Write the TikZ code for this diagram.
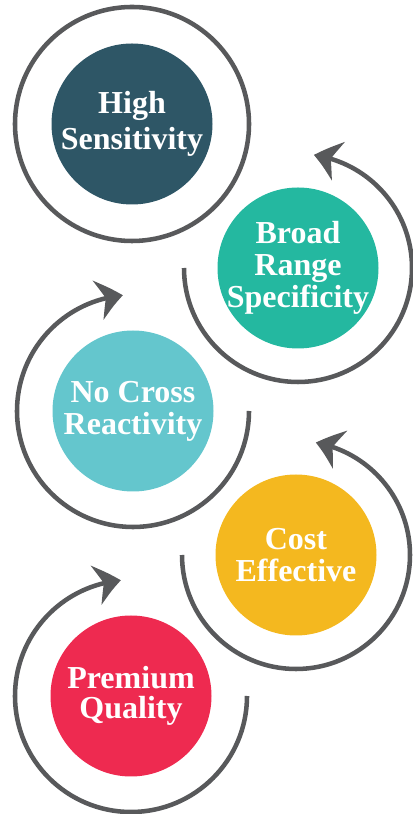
\documentclass[tikz,border=0pt]{standalone}
\usepackage{fontspec}
\setmainfont{Liberation Serif}
\usetikzlibrary{arrows.meta,bending}
\definecolor{cdark}{HTML}{2E5666}
\definecolor{cteal}{HTML}{24B8A0}
\definecolor{ccyan}{HTML}{64C6CD}
\definecolor{cyell}{HTML}{F4B81F}
\definecolor{cred}{HTML}{EE2A50}
\definecolor{cgray}{HTML}{58595B}
\begin{document}
\begin{tikzpicture}[x=0.75pt,y=0.75pt,
  disc/.style={circle,minimum size=120.75pt,inner sep=0pt,draw=none},
  lbl/.style={text=white,align=center,font=\bfseries\fontsize{24}{24}\selectfont,inner sep=0pt},
  loop/.style={draw=cgray,line width=3.4pt},
  loopar/.style={loop,-{Stealth[length=19pt,width=30pt,inset=6pt,bend]}}]
\useasboundingbox (0,0) rectangle (412,814);
% discs
\node[disc,fill=cdark] (n1) at (132,690) {};
\node[disc,fill=cteal] (n2) at (298,546) {};
\node[disc,fill=ccyan] (n3) at (133,403) {};
\node[disc,fill=cyell] (n4) at (296,259) {};
\node[disc,fill=cred]  (n5) at (131,118) {};
% labels
\node[lbl,font=\bfseries\fontsize{24}{27}\selectfont] (t1) at (n1) {High\\Sensitivity};
\node[lbl] (t2) at (n2) {Broad\\Range\\Specificity};
\node[lbl] (t3) at (n3) {No Cross\\Reactivity};
\node[lbl] (t4) at (n4) {Cost\\Effective};
\node[lbl,font=\bfseries\fontsize{24}{23}\selectfont] (t5) at (n5) {Premium\\Quality};
% ring and loops
\draw[loop] (n1.center) circle[radius=117];
\draw[loopar] (n2.center) ++(180:114) arc[start angle=180,end angle=442,radius=114];
\draw[loopar] (n3.center) ++(0:116) arc[start angle=0,end angle=-265,radius=116];
\draw[loopar] (n4.center) ++(180:114) arc[start angle=180,end angle=440,radius=114];
\draw[loopar] (n5.center) ++(0:116) arc[start angle=0,end angle=-265,radius=116];
\end{tikzpicture}
\end{document}
